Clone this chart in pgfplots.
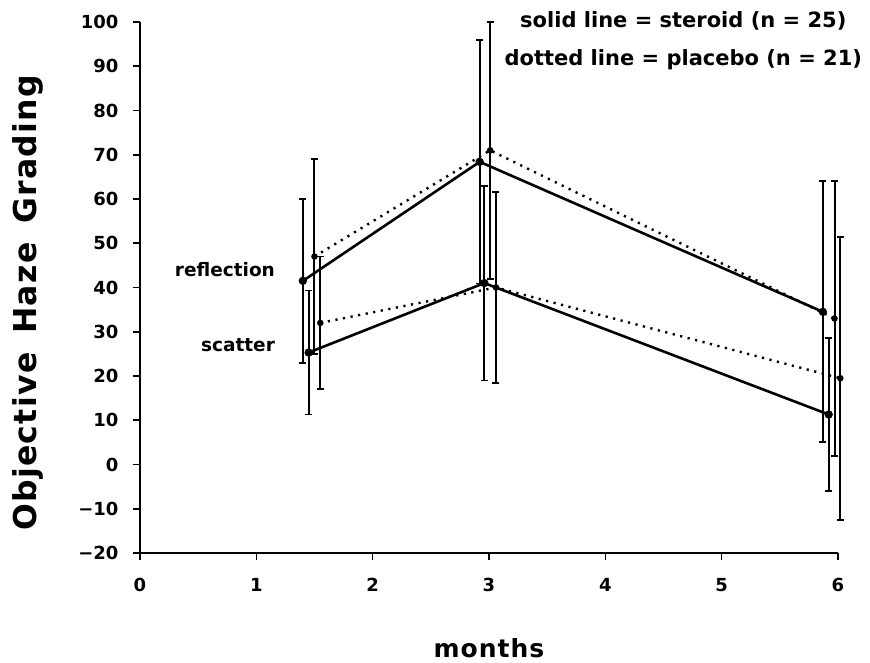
\documentclass[border=0pt]{standalone}
\usepackage{pgfplots}
\pgfplotsset{compat=1.18}
\usepackage{fontspec}
\setmainfont{DejaVu Sans}
\newfontfamily\tickf{DejaVu Sans Bold}
\newfontfamily\labf[LetterSpace=4]{DejaVu Sans Bold}
\pgfplotsset{
  eb/.style={error bars/.cd, y dir=both, y explicit,
    error bar style={solid, line width=2pt},
    error mark options={solid, rotate=90, mark size=3.5pt, line width=1.8pt}},
}
\begin{document}
\begin{tikzpicture}
\begin{axis}[
  scale only axis, width=698pt, height=531pt,
  xmin=0, xmax=6, ymin=-20, ymax=100,
  axis x line=bottom, axis y line=left,
  axis line style={-, line width=2pt},
  xtick={0,1,2,3,4,5,6},
  ytick={-20,-10,0,10,20,30,40,50,60,70,80,90,100},
  yticklabels={{−20},{−10},0,10,20,30,40,50,60,70,80,90,100},
  xticklabels={0,1,2,3,4,5,6},
  tick align=outside, major tick length=7pt,
  tick style={line width=1.6pt, black},
  ticklabel style={font=\tickf\fontsize{18}{19}\selectfont},
  xticklabel style={yshift=-15pt},
  yticklabel style={xshift=-11pt},
  xlabel={months}, ylabel={Objective\hspace{0.6em}Haze\hspace{0.6em}Grading},
  xlabel style={font=\labf\fontsize{25}{26}\selectfont, at={(axis description cs:0.5,-0.179)}, anchor=center},
  ylabel style={font=\labf\fontsize{31.5}{32}\selectfont, at={(axis description cs:-0.161,0.471)}, anchor=center},
  clip=false,
]
% steroid reflection
\addplot[black, line width=2.6pt, mark=*, mark size=2.8pt, eb] coordinates {
  (1.40,41.5) +- (0,18.5)
  (2.92,68.4) +- (0,27.5)
  (5.87,34.5) +- (0,29.5)
};
% placebo reflection
\addplot[black, line width=2.4pt, dash pattern=on 2.2pt off 5.5pt, mark=*, mark size=2pt, mark options={solid}, eb] coordinates {
  (1.50,47) +- (0,22)
  (3.01,71) +- (0,29)
  (5.97,33) +- (0,31)
};
% steroid scatter
\addplot[black, line width=2.6pt, mark=*, mark size=2.8pt, eb] coordinates {
  (1.45,25.3) +- (0,14)
  (2.96,41) +- (0,22)
  (5.92,11.3) +- (0,17.3)
};
% placebo scatter
\addplot[black, line width=2.4pt, dash pattern=on 2.2pt off 5.5pt, mark=*, mark size=2pt, mark options={solid}, eb] coordinates {
  (1.55,32) +- (0,15)
  (3.06,40) +- (0,21.5)
  (6.02,19.5) +- (0,32)
};
\node[anchor=east, font=\tickf\fontsize{18.5}{19}\selectfont] at (axis cs:1.19,44) {reflection};
\node[anchor=east, font=\tickf\fontsize{18.5}{19}\selectfont] at (axis cs:1.19,27) {scatter};
\node[font=\tickf\fontsize{21}{22}\selectfont] at (axis cs:4.67,100.3) {solid line = steroid (n = 25)};
\node[font=\tickf\fontsize{21}{22}\selectfont] at (axis cs:4.67,91.4) {dotted line = placebo (n = 21)};
\end{axis}
\path ([shift={(-140pt,-109pt)}]current axis.south west) rectangle ([shift={(32pt,22pt)}]current axis.north east);
\end{tikzpicture}
\end{document}
